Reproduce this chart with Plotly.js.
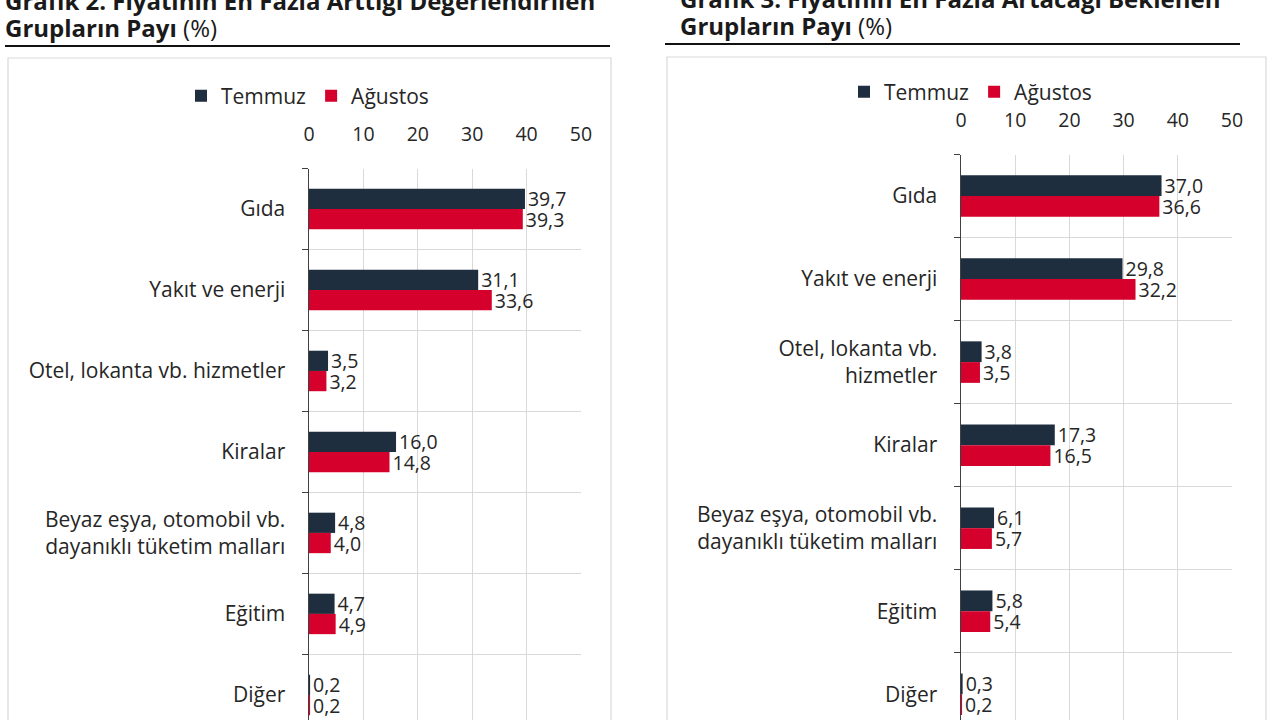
<!DOCTYPE html>
<html>
<head>
<meta charset="utf-8">
<script src="https://cdn.plot.ly/plotly-3.0.1.min.js"></script>
<style>html,body{margin:0;padding:0;background:#fff;}#chart{width:1280px;height:720px;}</style>
</head>
<body>
<div id="chart"></div>
<script>
// ---- data ----
const categoriesLeft = ["Gıda", "Yakıt ve enerji", "Otel, lokanta vb. hizmetler", "Kiralar",
  "Beyaz eşya, otomobil vb.<br>dayanıklı tüketim malları", "Eğitim", "Diğer"];
const temmuzLeft = [39.7, 31.1, 3.5, 16.0, 4.8, 4.7, 0.2];
const agustosLeft = [39.3, 33.6, 3.2, 14.8, 4.0, 4.9, 0.2];

const categoriesRight = ["Gıda", "Yakıt ve enerji", "Otel, lokanta vb.<br>hizmetler", "Kiralar",
  "Beyaz eşya, otomobil vb.<br>dayanıklı tüketim malları", "Eğitim", "Diğer"];
const temmuzRight = [37.0, 29.8, 3.8, 17.3, 6.1, 5.8, 0.3];
const agustosRight = [36.6, 32.2, 3.5, 16.5, 5.7, 5.4, 0.2];

const seriesNames = ["Temmuz", "Ağustos"];
const xTicks = [0, 10, 20, 30, 40, 50];
const titleLeft1 = "Grafik 2. Fiyatının En Fazla Arttığı Değerlendirilen";
const titleRight1 = "Grafik 3. Fiyatının En Fazla Artacağı Beklenen";
const titleLine2 = "<b>Grupların Payı</b> (%)";

// ---- styles ----
const W = 1280, H = 720;
const px = v => v / W;
const py = v => 1 - v / H;
const DARK = "#1f2e3f", RED = "#d5002b";
const FONT = "Open Sans, Noto Sans, sans-serif";
const TXT = "#262626";

function bar(name, cats, vals, color, xa, ya, lg, showleg) {
  return {
    type: "bar", orientation: "h", name: name, y: cats, x: vals,
    xaxis: xa, yaxis: ya, legend: lg, showlegend: showleg,
    marker: {color: color, line: {width: 0}},
    text: vals, texttemplate: "%{x:.1f}", textposition: "outside",
    constraintext: "none", cliponaxis: false,
    textfont: {family: FONT, size: 19.5, color: TXT},
    hoverinfo: "skip"
  };
}

const data = [
  bar(seriesNames[0], categoriesLeft, temmuzLeft, DARK, "x", "y", "legend", true),
  bar(seriesNames[1], categoriesLeft, agustosLeft, RED, "x", "y", "legend", true),
  bar(seriesNames[0], categoriesRight, temmuzRight, DARK, "x2", "y2", "legend2", true),
  bar(seriesNames[1], categoriesRight, agustosRight, RED, "x2", "y2", "legend2", true)
];

function xaxis(dom, anchor) {
  return {
    domain: dom, anchor: anchor, side: "top", range: [0, 50],
    tickvals: xTicks, ticks: "outside", ticklen: 19, tickcolor: "rgba(0,0,0,0)",
    showgrid: true, gridcolor: "#d9d9d9", gridwidth: 1, zeroline: false,
    showline: false, tickfont: {family: FONT, size: 19.5, color: TXT}, fixedrange: true
  };
}
function yaxis(dom, anchor, r) {
  return {
    domain: dom, anchor: anchor, type: "category", range: r,
    tickson: "boundaries", ticks: "outside", ticklen: 6, tickcolor: "#404040", tickwidth: 1.5,
    showgrid: true, gridcolor: "#d9d9d9", gridwidth: 1,
    showline: true, linecolor: "#404040", linewidth: 1.5,
    ticklabelstandoff: 18,
    tickfont: {family: FONT, size: 21, color: TXT}, fixedrange: true
  };
}

const layout = {
  width: W, height: H, margin: {l: 0, r: 0, t: 0, b: 0},
  paper_bgcolor: "#fff", plot_bgcolor: "rgba(0,0,0,0)",
  separators: ",.", barmode: "group", bargap: 0.5, bargroupgap: 0,
  font: {family: FONT, color: TXT},
  xaxis: xaxis([px(309), px(581)], "y"),
  yaxis: yaxis([0, py(168.5)], "x", [6.31, -0.5]),
  xaxis2: xaxis([px(961), px(1232)], "y2"),
  yaxis2: yaxis([0, py(154.5)], "x2", [6.31, -0.5]),
  legend: {orientation: "h", x: px(181), y: py(96), xanchor: "left", yanchor: "middle",
    font: {family: FONT, size: 21, color: TXT}, bgcolor: "rgba(0,0,0,0)", traceorder: "normal",
    itemclick: false, itemdoubleclick: false},
  legend2: {orientation: "h", x: px(844), y: py(92), xanchor: "left", yanchor: "middle",
    font: {family: FONT, size: 21, color: TXT}, bgcolor: "rgba(0,0,0,0)", traceorder: "normal",
    itemclick: false, itemdoubleclick: false},
  shapes: [
    {type: "line", xref: "paper", yref: "paper", x0: px(5), x1: px(610), y0: py(46), y1: py(46),
      line: {color: "#111", width: 2}},
    {type: "line", xref: "paper", yref: "paper", x0: px(665), x1: px(1240), y0: py(44), y1: py(44),
      line: {color: "#111", width: 2}},
    {type: "rect", xref: "paper", yref: "paper", x0: px(8), x1: px(611), y0: -0.05, y1: py(58),
      line: {color: "#d9d9d9", width: 1.2}, layer: "below"},
    {type: "rect", xref: "paper", yref: "paper", x0: px(667), x1: px(1266), y0: -0.05, y1: py(57),
      line: {color: "#d9d9d9", width: 1.2}, layer: "below"}
  ],
  annotations: [
    {xref: "paper", yref: "paper", x: px(3), y: py(0), xanchor: "left", yanchor: "middle",
      text: "<b>" + titleLeft1 + "</b>", showarrow: false, font: {family: FONT, size: 24, color: "#1a1a1a"}},
    {xref: "paper", yref: "paper", x: px(3), y: py(28), xanchor: "left", yanchor: "middle",
      text: titleLine2, showarrow: false, font: {family: FONT, size: 24, color: "#1a1a1a"}},
    {xref: "paper", yref: "paper", x: px(678), y: py(-2), xanchor: "left", yanchor: "middle",
      text: "<b>" + titleRight1 + "</b>", showarrow: false, font: {family: FONT, size: 24, color: "#1a1a1a"}},
    {xref: "paper", yref: "paper", x: px(678), y: py(26), xanchor: "left", yanchor: "middle",
      text: titleLine2, showarrow: false, font: {family: FONT, size: 24, color: "#1a1a1a"}}
  ]
};

Plotly.newPlot("chart", data, layout, {staticPlot: true, displayModeBar: false});
</script>
</body>
</html>
